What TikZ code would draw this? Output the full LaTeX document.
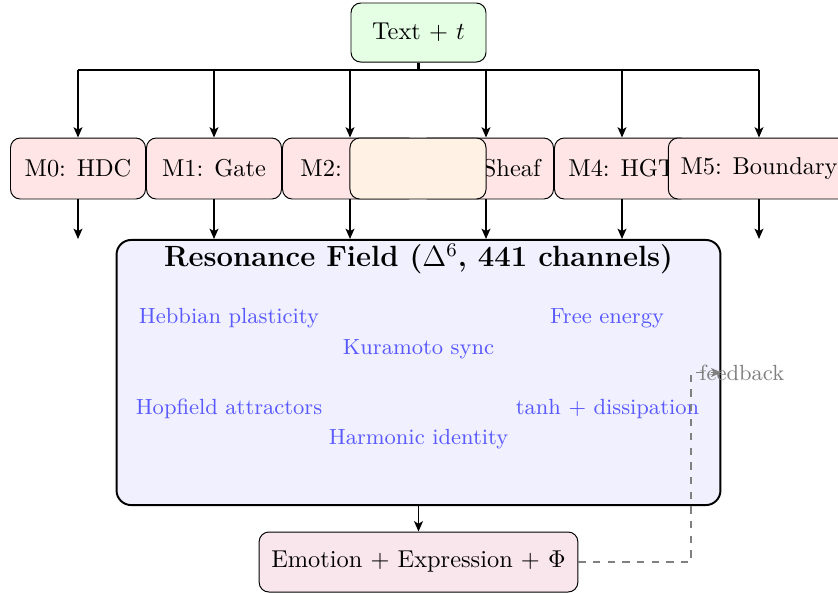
\documentclass[tikz,border=0pt]{standalone}
\usetikzlibrary{arrows.meta}
\begin{document}
\begin{tikzpicture}[x=0.41pt,y=-0.41pt,
  >={Stealth[length=4.2pt,width=3.6pt,inset=1pt]},
  box/.style={draw, rounded corners=4pt, thin, inner xsep=5pt, minimum width=55.35pt, minimum height=25pt},
  topbox/.style={box, fill=green!10, minimum height=24.2pt},
  mbox/.style={box, fill=red!10},
  hidebox/.style={box, fill=orange!10, minimum width=55.8pt},
  field/.style={draw, thick, rounded corners=6pt, fill=blue!6, minimum width=247.6pt, minimum height=108.7pt},
  outbox/.style={box, fill=purple!10, minimum height=24.6pt},
  mech/.style={text=blue!65, font=\small},
  conn/.style={thick},
  arr/.style={thick, ->},
  fbline/.style={thick, dashed, gray, ->},
  plainlbl/.style={inner sep=0pt}
]
\useasboundingbox (0,0) rectangle (838,592);

% top node
\node[topbox] (top) at (418.5,32.5) {Text $+$ $t$};

% bus coordinates
\coordinate (bus) at (418.5,70);
\coordinate (b0) at (78,70);
\coordinate (b1) at (214,70);
\coordinate (b2) at (350,70);
\coordinate (b3) at (486,70);
\coordinate (b4) at (622,70);
\coordinate (b5) at (759,70);

% module boxes
\node[mbox] (m0) at (78,168.5) {M0: HDC};
\node[mbox] (m1) at (214,168.5) {M1: Gate};
\node[mbox] (m2) at (350,168.5) {};
\node[plainlbl, anchor=west] (m2t) at (300,168.5) {M2:};
\node[mbox] (m3) at (486,168.5) {};
\node[plainlbl, anchor=east] (m3t) at (541,168.5) {Sheaf};
\node[hidebox] (hide) at (418,168.5) {};
\node[mbox] (m4) at (622,168.5) {M4: HGT};
\node[mbox] (m5) at (759,168.5) {M5: Boundary};

% bus drawing
\draw[line width=1.2pt] (top.south) -- (bus);
\draw[conn] (b0) -- (b5);
\draw[arr] (b0) -- (m0.north);
\draw[arr] (b1) -- (m1.north);
\draw[arr] (b2) -- (m2.north);
\draw[arr] (b3) -- (m3.north);
\draw[arr] (b4) -- (m4.north);
\draw[arr] (b5) -- (m5.north);

% outputs of modules
\coordinate (e0) at (78,239);
\coordinate (e1) at (214,239);
\coordinate (e2) at (350,239);
\coordinate (e3) at (486,239);
\coordinate (e4) at (622,239);
\coordinate (e5) at (759,239);
\draw[arr] (m0.south) -- (e0);
\draw[arr] (m1.south) -- (e1);
\draw[arr] (m2.south) -- (e2);
\draw[arr] (m3.south) -- (e3);
\draw[arr] (m4.south) -- (e4);
\draw[arr] (m5.south) -- (e5);

% resonance field
\node[field] (field) at (418.5,372.5) {};
\node[font=\large\bfseries] (title) at (418.5,259) {Resonance Field ($\Delta^{6}$, 441 channels)};
\node[mech] (heb) at (229,318.5) {Hebbian plasticity};
\node[mech] (fe) at (607,318.5) {Free energy};
\node[mech] (kur) at (418.5,349) {Kuramoto sync};
\node[mech] (hop) at (229,409) {Hopfield attractors};
\node[mech] (tanh) at (607.5,409) {tanh $+$ dissipation};
\node[mech] (harm) at (418.5,439) {Harmonic identity};

% output
\node[outbox] (emo) at (418.5,562) {Emotion $+$ Expression $+$ $\Phi$};
\draw[arr] (field.south) -- (emo.north);

% feedback
\coordinate (fb) at (691,372.5);
\draw[fbline] (emo.east) -| (fb) -- (field.east);
\node[anchor=west, text=gray, font=\small] (fbl) at (fb) {feedback};
\end{tikzpicture}
\end{document}
